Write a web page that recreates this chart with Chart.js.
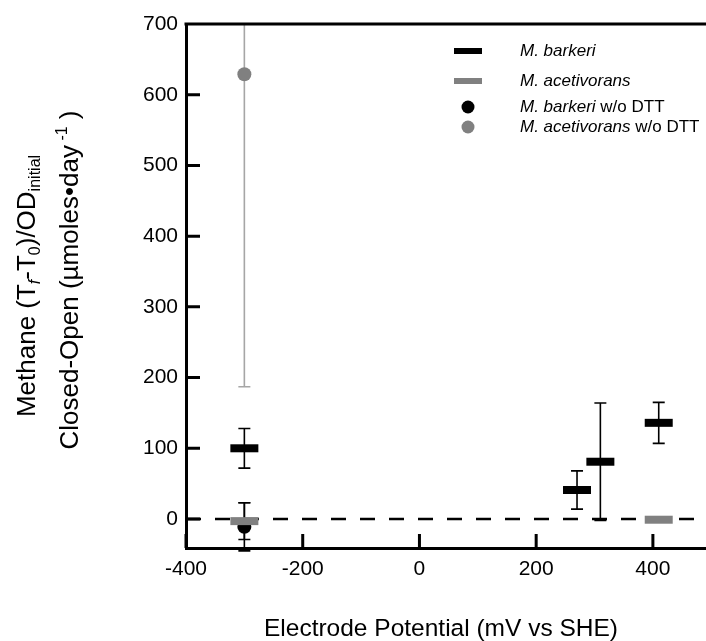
<!DOCTYPE html>
<html>
<head>
<meta charset="utf-8">
<script src="https://cdn.jsdelivr.net/npm/chart.js@4.4.1/dist/chart.umd.min.js"></script>
<style>
    html, body { margin: 0; padding: 0; background: #fff; overflow: hidden; }
    #wrap { width: 706px; height: 641px; }
</style>
</head>
<body>
<div id="wrap"><canvas id="myChart"></canvas></div>
<script>
// tick labels
const xTicks = [-400, -200, 0, 200, 400];
const yTicks = [0, 100, 200, 300, 400, 500, 600, 700];

// M. barkeri (mean +/- error)
const barkeriX = [-300, 270, 310, 410];
const barkeriY = [100, 41, 81, 136];
const barkeriErr = [28, 27, 83, 29];

// M. acetivorans
const acetivoransX = [-300, 410];
const acetivoransY = [-3, -1];
const acetivoransErr = [26, 0];

// M. barkeri w/o DTT
const barkeriNoDttX = [-300];
const barkeriNoDttY = [-11];
const barkeriNoDttErr = [34];

// M. acetivorans w/o DTT
const acetivoransNoDttX = [-300];
const acetivoransNoDttY = [629];
const acetivoransNoDttErr = [442];

const zeroLine = 0;

const FONT = "'Liberation Sans', Arial, sans-serif";
Chart.defaults.font.family = FONT;
Chart.defaults.color = '#000';

function points(xs, ys) {
    return xs.map((x, i) => ({ x: x, y: ys[i] }));
}

// vertical error bars, drawn under the markers
const errorBars = {
    id: 'errorBars',
    beforeDatasetsDraw(chart) {
        const { ctx, chartArea, scales: { x, y } } = chart;

        // dashed line at zero
        const y0 = y.getPixelForValue(zeroLine);
        ctx.save();
        ctx.strokeStyle = '#000';
        ctx.lineWidth = 2.5;
        ctx.setLineDash([15, 14]);
        ctx.beginPath();
        ctx.moveTo(chartArea.left, y0);
        ctx.lineTo(chartArea.right, y0);
        ctx.stroke();
        ctx.restore();

        chart.data.datasets.forEach(ds => {
            if (!ds.errors) return;
            ctx.save();
            ctx.strokeStyle = ds.errorColor;
            ctx.lineWidth = 1.6;
            ds.data.forEach((p, j) => {
                const e = ds.errors[j];
                if (!e) return;
                const px = x.getPixelForValue(p.x);
                let top = y.getPixelForValue(p.y + e);
                const bot = y.getPixelForValue(p.y - e);
                const capTop = top >= chartArea.top;
                top = Math.max(top, chartArea.top);
                ctx.beginPath();
                ctx.moveTo(px, top);
                ctx.lineTo(px, bot);
                if (capTop) { ctx.moveTo(px - 6, top); ctx.lineTo(px + 6, top); }
                ctx.moveTo(px - 6, bot);
                ctx.lineTo(px + 6, bot);
                ctx.stroke();
            });
            ctx.restore();
        });
    }
};

// inside ticks, top border, axis titles and the legend
const frame = {
    id: 'frame',
    afterDraw(chart) {
        const { ctx, chartArea, scales: { x, y } } = chart;
        ctx.save();
        ctx.strokeStyle = '#000';
        ctx.lineWidth = 3;
        ctx.beginPath();
        ctx.moveTo(chartArea.left - 1.5, chartArea.top);
        ctx.lineTo(chartArea.right, chartArea.top);
        yTicks.forEach(v => {
            const py = y.getPixelForValue(v);
            ctx.moveTo(chartArea.left, py);
            ctx.lineTo(chartArea.left + 14, py);
        });
        xTicks.forEach(v => {
            const px = x.getPixelForValue(v);
            ctx.moveTo(px, chartArea.bottom);
            ctx.lineTo(px, chartArea.bottom - 14);
        });
        ctx.stroke();

        // x title
        ctx.fillStyle = '#000';
        ctx.font = '24.5px ' + FONT;
        ctx.textAlign = 'center';
        ctx.textBaseline = 'alphabetic';
        ctx.fillText('Electrode Potential (mV vs SHE)', 441, 636);

        // y title, two lines with sub/superscripts
        const big = '26px ' + FONT;
        const small = '16px ' + FONT;
        const smallIt = 'italic 16px ' + FONT;
        drawRotated(ctx, 35, 286, [
            ['Methane (T', big, 0], ['f', smallIt, 5], ['-T', big, 0], ['0', small, 5],
            [')/OD', big, 0], ['initial', small, 5]
        ]);
        drawRotated(ctx, 78, 280, [
            ['Closed-Open (\u00b5moles\u2022day', big, 0], [' -1', small, -11], [' )', big, 0]
        ]);

        // legend
        const rowY = [51, 81, 107, 127];
        ctx.textAlign = 'left';
        ctx.textBaseline = 'middle';
        chart.data.datasets.forEach((ds, i) => {
            const ly = rowY[i];
            ctx.fillStyle = ds.borderColor;
            if (ds.pointStyle === 'line') {
                ctx.fillRect(454, ly - 3, 28, 6);
            } else {
                ctx.beginPath();
                ctx.arc(468, ly, 6.5, 0, Math.PI * 2);
                ctx.fill();
            }
            ctx.fillStyle = '#000';
            ctx.font = 'italic 17px ' + FONT;
            ctx.fillText(ds.label, 520, ly);
            if (ds.labelRest) {
                const w = ctx.measureText(ds.label).width;
                ctx.font = '17px ' + FONT;
                ctx.fillText(ds.labelRest, 520 + w, ly);
            }
        });
        ctx.restore();
    }
};

function drawRotated(ctx, bx, cy, runs) {
    ctx.save();
    ctx.translate(bx, cy);
    ctx.rotate(-Math.PI / 2);
    ctx.textAlign = 'left';
    ctx.textBaseline = 'alphabetic';
    ctx.fillStyle = '#000';
    let total = 0;
    runs.forEach(r => { ctx.font = r[1]; total += ctx.measureText(r[0]).width; });
    let cx = -total / 2;
    runs.forEach(r => {
        ctx.font = r[1];
        ctx.fillText(r[0], cx, r[2]);
        cx += ctx.measureText(r[0]).width;
    });
    ctx.restore();
}

const ctx = document.getElementById('myChart');

const data = {
    datasets: [{
        label: 'M. barkeri',
        data: points(barkeriX, barkeriY),
        errors: barkeriErr,
        errorColor: '#000',
        pointStyle: 'line',
        pointRadius: 14,
        borderWidth: 8,
        borderColor: '#000',
        backgroundColor: '#000',
        showLine: false
    }, {
        label: 'M. acetivorans',
        data: points(acetivoransX, acetivoransY),
        errors: acetivoransErr,
        errorColor: '#000',
        pointStyle: 'line',
        pointRadius: 14,
        borderWidth: 8,
        borderColor: '#808080',
        backgroundColor: '#808080',
        showLine: false
    }, {
        label: 'M. barkeri',
        labelRest: ' w/o DTT',
        data: points(barkeriNoDttX, barkeriNoDttY),
        errors: barkeriNoDttErr,
        errorColor: '#000',
        pointStyle: 'circle',
        pointRadius: 7,
        borderWidth: 0,
        borderColor: '#000',
        backgroundColor: '#000',
        showLine: false
    }, {
        label: 'M. acetivorans',
        labelRest: ' w/o DTT',
        data: points(acetivoransNoDttX, acetivoransNoDttY),
        errors: acetivoransNoDttErr,
        errorColor: '#a6a6a6',
        pointStyle: 'circle',
        pointRadius: 7,
        borderWidth: 0,
        borderColor: '#808080',
        backgroundColor: '#808080',
        showLine: false
    }]
};

const options = {
    responsive: true,
    maintainAspectRatio: false,
    animation: false,
    layout: { autoPadding: false, padding: { top: 24, right: 0, bottom: 0, left: 0 } },
    plugins: {
        legend: { display: false },
        tooltip: { enabled: false }
    },
    scales: {
        x: {
            type: 'linear',
            min: -400,
            max: 491,
            afterBuildTicks: s => { s.ticks = xTicks.map(v => ({ value: v })); },
            afterFit: s => { s.height = 93; s.paddingLeft = 0; s.paddingRight = 0; },
            grid: { display: false, drawTicks: false },
            border: { display: true, color: '#000', width: 3 },
            ticks: { color: '#000', font: { size: 21 }, padding: 9, maxRotation: 0 }
        },
        y: {
            type: 'linear',
            min: -41,
            max: 700,
            afterBuildTicks: s => { s.ticks = yTicks.map(v => ({ value: v })); },
            afterFit: s => { s.width = 186; s.paddingTop = 0; s.paddingBottom = 0; },
            grid: { display: false, drawTicks: false },
            border: { display: true, color: '#000', width: 3 },
            ticks: { color: '#000', font: { size: 21 }, padding: 8 }
        }
    }
};

new Chart(ctx, {
    type: 'scatter',
    data: data,
    options: options,
    plugins: [errorBars, frame]
});
</script>
</body>
</html>
